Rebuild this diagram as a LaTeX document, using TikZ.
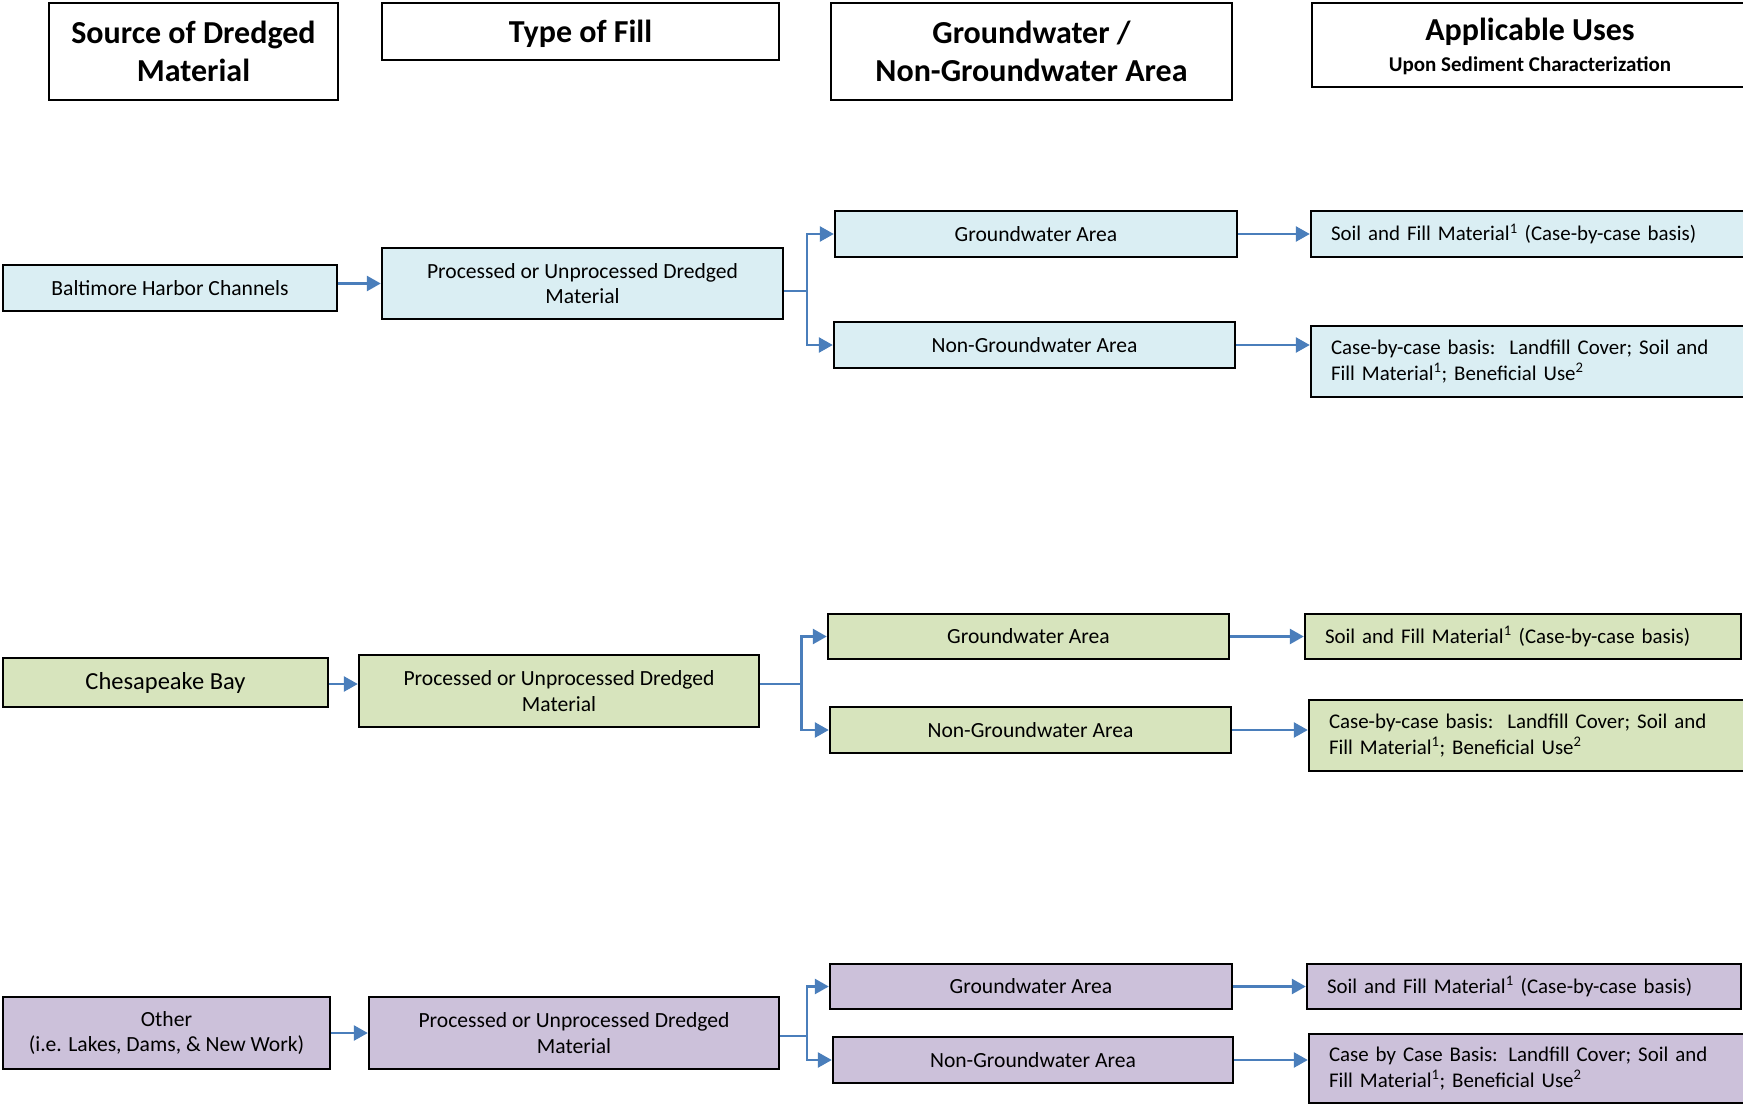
\documentclass[tikz,border=0pt]{standalone}
\usepackage{fontspec}
\setmainfont{Carlito}
\usetikzlibrary{arrows.meta}
\definecolor{fillblue}{HTML}{DAEEF3}
\definecolor{fillgreen}{HTML}{D7E4BD}
\definecolor{fillpurple}{HTML}{CCC1DA}
\definecolor{linkblue}{HTML}{4A7EBB}
\newcommand\hdrfont{\fontsize{32}{37.5}\selectfont\bfseries}
\newcommand\subhdrfont{\fontsize{21}{24}\selectfont\bfseries}
\newcommand\txtfont{\fontsize{21.6}{25.6}\selectfont}
\newcommand\usetxtfont{\fontsize{20.9}{25.6}\selectfont}
\newcommand\bigtxtfont{\fontsize{24.5}{29}\selectfont}
\begin{document}
\begin{tikzpicture}[x=1pt,y=-1pt,
  box/.style={draw=black, line width=2.4pt, inner sep=0pt, align=center, font=\txtfont},
  hdr/.style={box, fill=white, font=\hdrfont},
  usebox/.style={box, align=left, font=\usetxtfont},
  conn/.style={draw=linkblue, line width=2.6pt, -{Triangle[length=14pt,width=15pt]}},
  joint/.style={draw=linkblue, line width=2.6pt}]
\clip (0,0) rectangle (1743,1105);

% column headers
\node[hdr, minimum width=289, minimum height=97] (hsrc) at (193.5,51.5) {Source of Dredged\\Material};
\node[hdr, minimum width=397, minimum height=57, text depth=0pt] (hfill) at (580.5,31.5) {Type of Fill};
\node[hdr, minimum width=401, minimum height=97] (harea) at (1031.5,51.5) {Groundwater /\\Non-Groundwater Area};
\node[hdr, minimum width=436, minimum height=84, text depth=0pt] (huse) at (1530,45) {Applicable Uses\\[-6pt]{\subhdrfont Upon Sediment Characterization}};

% Baltimore Harbor Channels
\node[box, fill=fillblue, minimum width=334, minimum height=46] (src1) at (170,288) {Baltimore Harbor Channels};
\node[box, fill=fillblue, minimum width=401, minimum height=71] (fill1) at (582.5,283.5) {Processed or Unprocessed Dredged\\Material};
\node[box, fill=fillblue, minimum width=402, minimum height=46] (gw1) at (1036,234) {Groundwater Area};
\node[box, fill=fillblue, minimum width=401, minimum height=46] (ngw1) at (1034.5,345) {Non-Groundwater Area};
\node[usebox, fill=fillblue, minimum width=449, minimum height=46, text width=409] (use1a) at (1535.5,234) {Soil and Fill Material\textsuperscript{1} (Case-by-case basis)};
\node[usebox, fill=fillblue, minimum width=449, minimum height=71, text width=409] (use1b) at (1535.5,361.5) {Case-by-case basis:\ \ Landfill Cover; Soil and\\Fill Material\textsuperscript{1}; Beneficial Use\textsuperscript{2}};

\coordinate (j1) at (807,291);
\draw[conn] (src1.east |- fill1.west) -- (fill1.west);
\draw[joint] (fill1.east |- j1) -- (j1);
\draw[conn] (j1) |- (gw1.west);
\draw[conn] (j1) |- (ngw1.west);
\draw[conn] (gw1.east) -- (use1a.west);
\draw[conn] (ngw1.east) -- (ngw1.east -| use1b.west);

% Chesapeake Bay
\node[box, fill=fillgreen, minimum width=325, minimum height=49, font=\bigtxtfont] (src2) at (165.5,682.5) {Chesapeake Bay};
\node[box, fill=fillgreen, minimum width=400, minimum height=72] (fill2) at (559,691) {Processed or Unprocessed Dredged\\Material};
\node[box, fill=fillgreen, minimum width=401, minimum height=45] (gw2) at (1028.5,636.5) {Groundwater Area};
\node[box, fill=fillgreen, minimum width=401, minimum height=46] (ngw2) at (1030.5,730) {Non-Groundwater Area};
\node[usebox, fill=fillgreen, minimum width=436, minimum height=45, text width=396] (use2a) at (1523,636.5) {Soil and Fill Material\textsuperscript{1} (Case-by-case basis)};
\node[usebox, fill=fillgreen, minimum width=451, minimum height=71, text width=411] (use2b) at (1534.5,735.5) {Case-by-case basis:\ \ Landfill Cover; Soil and\\Fill Material\textsuperscript{1}; Beneficial Use\textsuperscript{2}};

\coordinate (j2) at (801.5,684);
\draw[conn] (src2.east |- j2) -- (fill2.west |- j2);
\draw[joint] (fill2.east |- j2) -- (j2);
\draw[conn] (j2) |- (gw2.west);
\draw[conn] (j2) |- (ngw2.west);
\draw[conn] (gw2.east) -- (use2a.west);
\draw[conn] (ngw2.east) -- (ngw2.east -| use2b.west);

% Other sources
\node[box, fill=fillpurple, minimum width=327, minimum height=72] (src3) at (166.5,1033) {Other\\(i.e. Lakes, Dams, \& New Work)};
\node[box, fill=fillpurple, minimum width=410, minimum height=72] (fill3) at (574,1033) {Processed or Unprocessed Dredged\\Material};
\node[box, fill=fillpurple, minimum width=402, minimum height=45] (gw3) at (1031,986.5) {Groundwater Area};
\node[box, fill=fillpurple, minimum width=400, minimum height=46] (ngw3) at (1033,1060) {Non-Groundwater Area};
\node[usebox, fill=fillpurple, minimum width=434, minimum height=45, text width=394] (use3a) at (1524,986.5) {Soil and Fill Material\textsuperscript{1} (Case-by-case basis)};
\node[usebox, fill=fillpurple, minimum width=451, minimum height=69, text width=411] (use3b) at (1534.5,1068.5) {Case by Case Basis: Landfill Cover; Soil and\\Fill Material\textsuperscript{1}; Beneficial Use\textsuperscript{2}};

\coordinate (j3) at (807,1036);
\draw[conn] (src3.east) -- (fill3.west);
\draw[joint] (fill3.east |- j3) -- (j3);
\draw[conn] (j3) |- (gw3.west);
\draw[conn] (j3) |- (ngw3.west);
\draw[conn] (gw3.east) -- (use3a.west);
\draw[conn] (ngw3.east) -- (ngw3.east -| use3b.west);
\end{tikzpicture}
\end{document}
